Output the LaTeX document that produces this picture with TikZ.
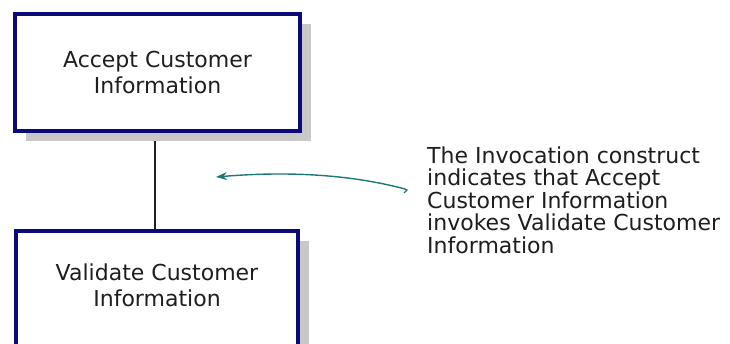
\documentclass[tikz,border=0pt]{standalone}
\usepackage{fontspec}
\setmainfont{DejaVu Sans}
\usetikzlibrary{arrows.meta,shadows,backgrounds}
\definecolor{boxnavy}{RGB}{10,10,120}
\definecolor{shadowgray}{RGB}{200,200,200}
\definecolor{noteteal}{RGB}{30,120,120}
\definecolor{inkgray}{RGB}{30,30,30}
\tikzset{
  x=1pt, y=1pt,
  process/.style={draw=boxnavy, line width=4pt, fill=white, inner sep=0pt,
    general shadow={fill=shadowgray, shadow xshift=11pt, shadow yshift=-10pt}},
  boxtext/.style={text=inkgray, align=center, inner sep=0pt,
    font=\fontsize{22}{26}\selectfont},
  notetext/.style={text=inkgray, align=left, inner sep=0pt,
    font=\fontsize{22}{22.5}\selectfont},
  link/.style={draw=inkgray, line width=1.5pt},
  pointer/.style={draw=noteteal, line width=1.4pt,
    -{Stealth[length=11pt,width=8pt,fill=noteteal]}}
}
\begin{document}
\begin{tikzpicture}
  \useasboundingbox (0,0) rectangle (730,343);

  % the two processes
  \node[process, minimum width=285pt, minimum height=117pt] (accept) at (157.5,270.5) {};
  \node[boxtext] (acceptlbl) at (accept.center) {Accept Customer\\Information};
  \node[process, minimum width=282pt, minimum height=130pt] (validate) at (157,47) {};
  \node[boxtext] (validatelbl) at (157,58) {Validate Customer\\Information};

  % white page, then the invocation link, both behind the boxes and their shadows
  \begin{pgfonlayer}{background}
    \fill[white] (0,0) rectangle (730,343);
    \draw[link] ([xshift=-2.5pt]accept.south) -- ([xshift=-2.5pt]accept.south |- validate.north);
  \end{pgfonlayer}

  % annotation
  \node[notetext, anchor=north west] (note) at (427,196.5)
    {The Invocation construct\\indicates that Accept\\Customer Information\\invokes Validate Customer\\Information};
  \coordinate (tail) at (405,154);
  \coordinate (tip) at (216,166);
  \draw[pointer] (tail) .. controls (360,166) and (300,173) .. (tip);
  \draw[noteteal, line width=1.2pt] (tail) -- ++(2,-1) -- ++(-3,-3);
\end{tikzpicture}
\end{document}
